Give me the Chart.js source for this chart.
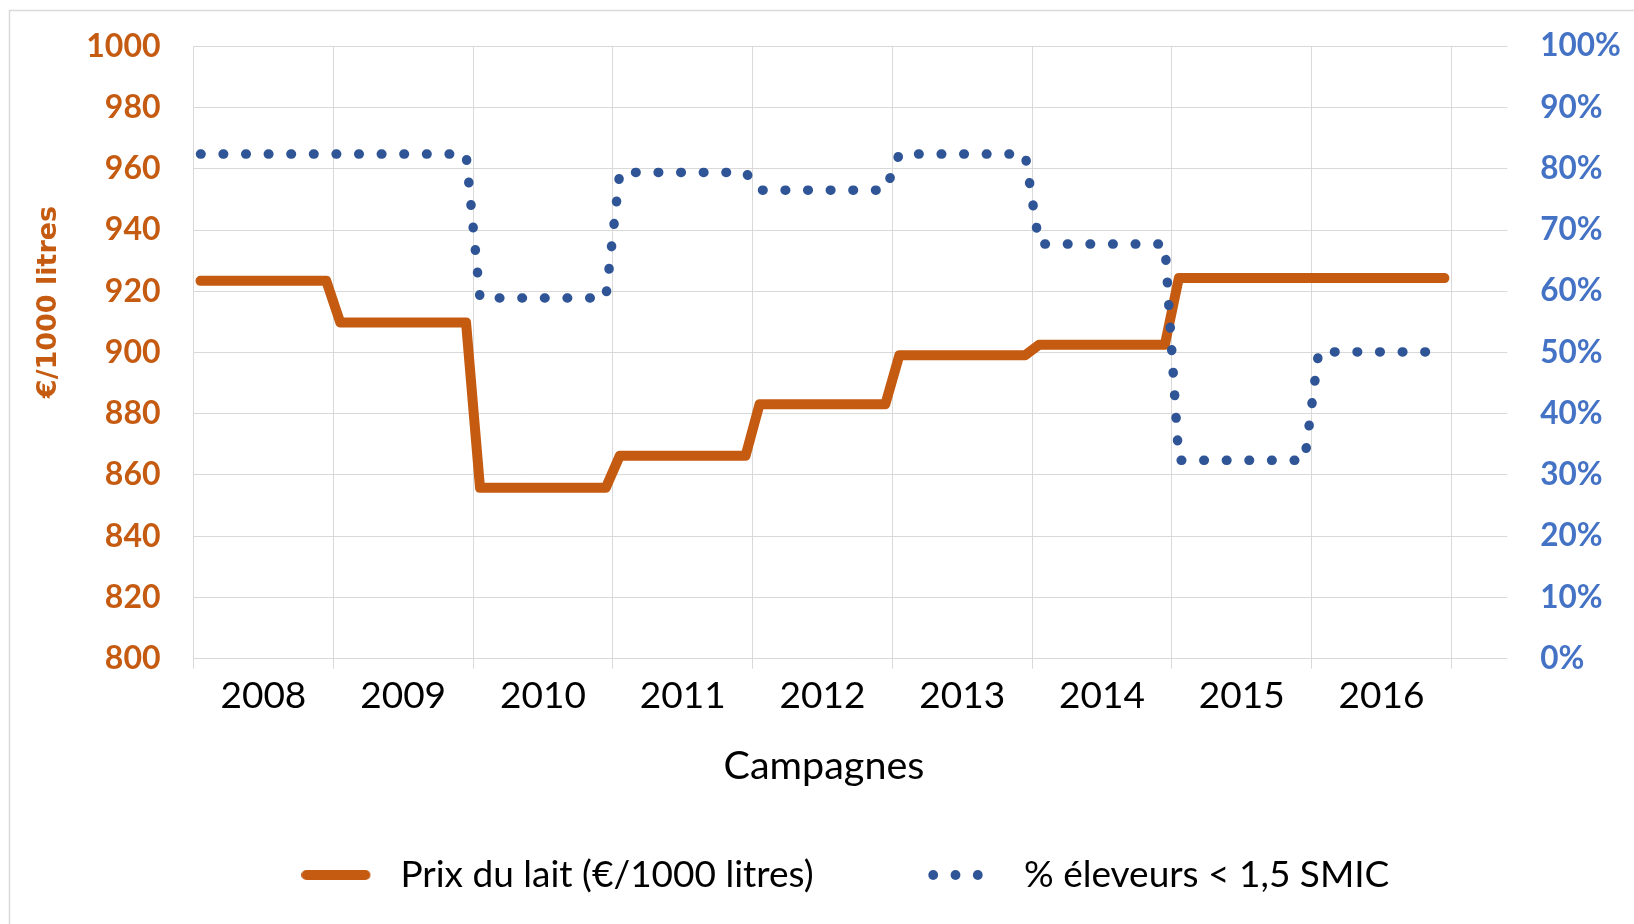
<!DOCTYPE html>
<html><head><meta charset="utf-8">
<script src="https://cdn.jsdelivr.net/npm/chart.js@4.4.1/dist/chart.umd.min.js"></script>
<style>html,body{margin:0;padding:0;background:#fff;overflow:hidden}canvas{display:block}</style>
</head><body>
<canvas id="c" width="1634" height="924"></canvas>
<script>
// ---- data ----
const campagnes = ['2008','2009','2010','2011','2012','2013','2014','2015','2016'];
const prixLait = [923.4, 909.8, 855.8, 866.3, 883.1, 899.1, 902.5, 924.3, 924.3];   // €/1000 litres
const pctEleveurs = [82.4, 82.4, 58.9, 79.4, 76.5, 82.4, 67.7, 32.4, 50.1];         // %
const serieLabels = ['Prix du lait (€/1000 litres)', '% éleveurs < 1,5 SMIC'];
const yTitle = '€/1000 litres';
const xTitle = 'Campagnes';
const sousCategories = 10;     // categories per campaign on the category axis
const nbCategories = 94;       // total categories of the axis

// ---- styles ----
const ORANGE = '#C55A11', BLUE = '#2F5597', BLUE_T = '#4472C4', GRID = '#D9D9D9';
const W = 1634, H = 924;
const plot = {left: 193.5, right: 1507.3, top: 46.3, bottom: 658.7};
const LEG_FS = 37, BOXW = 91;

// series: each campaign is a plateau over its categories (category centres at k+0.5)
function plateau(values) {
  const pts = [];
  values.forEach((v, i) => {
    pts.push({x: i * sousCategories + 0.5, y: v});
    pts.push({x: i * sousCategories + sousCategories - 0.5, y: v});
  });
  return pts;
}

// legend layout from measured text widths
const mctx = document.createElement('canvas').getContext('2d');
mctx.font = LEG_FS + 'px Lato';
const t1 = mctx.measureText(serieLabels[0]).width;
const t2 = mctx.measureText(serieLabels[1]).width;
const item1 = 290.9, item2 = 914.5;
const legPad = (item2 - item1) - BOXW - LEG_FS / 2 - t1;
const padL = item1 + item2 + BOXW + LEG_FS / 2 + t2 - W;
const padB = (H - 875) - LEG_FS / 2 - 10;

function legendLine() {
  const cv = document.createElement('canvas'); cv.width = 70; cv.height = 12;
  const g = cv.getContext('2d'); g.strokeStyle = ORANGE; g.lineWidth = 10; g.lineCap = 'round';
  g.beginPath(); g.moveTo(5, 6); g.lineTo(64, 6); g.stroke(); return cv;
}
function legendDots() {
  const cv = document.createElement('canvas'); cv.width = 80; cv.height = 12;
  const g = cv.getContext('2d'); g.fillStyle = BLUE;
  [13.2, 35.5, 57.8].forEach(x => { g.beginPath(); g.arc(x, 6, 4.9, 0, Math.PI * 2); g.fill(); });
  return cv;
}
const legendImgs = [legendLine(), legendDots()];

const decor = {
  id: 'decor',
  beforeDraw(chart) {
    const c = chart.ctx; c.save();
    c.fillStyle = '#fff'; c.fillRect(0, 0, W, H);
    c.strokeStyle = GRID; c.lineWidth = 1.5; c.strokeRect(9.5, 10.5, W + 50, H + 50);
    c.restore();
  },
  afterDraw(chart) {
    const c = chart.ctx;
    c.save();
    c.fillStyle = ORANGE; c.font = 'bold 27px "DejaVu Sans"';
    c.textAlign = 'center'; c.textBaseline = 'middle';
    c.translate(48.5, 302); c.rotate(-Math.PI / 2); c.fillText(yTitle, 0, 0);
    c.restore();
    c.save();
    c.fillStyle = '#000'; c.font = '39.5px Lato'; c.textAlign = 'center'; c.textBaseline = 'middle';
    c.fillText(xTitle, 824, 766);
    c.restore();
  }
};

function noEdgePadding(s) { s.paddingTop = 0; s.paddingBottom = 0; s.paddingLeft = 0; s.paddingRight = 0; }

new Chart(document.getElementById('c'), {
  type: 'line',
  data: {
    datasets: [
      {label: serieLabels[0], data: plateau(prixLait), yAxisID: 'y', borderColor: ORANGE,
       borderWidth: 10, borderCapStyle: 'round', borderJoinStyle: 'round', pointRadius: 0,
       tension: 0, fill: false, order: 1},
      {label: serieLabels[1], data: plateau(pctEleveurs), yAxisID: 'y1', borderColor: BLUE,
       borderWidth: 9.5, borderDash: [0.6, 22], borderCapStyle: 'round', borderJoinStyle: 'round',
       pointRadius: 0, tension: 0, fill: false, order: 0}
    ]
  },
  options: {
    responsive: false, animation: false, devicePixelRatio: 1, events: [],
    layout: {padding: {left: padL, right: 0, top: plot.top, bottom: padB}},
    scales: {
      x: {
        type: 'linear', min: 0, max: nbCategories,
        border: {display: false},
        grid: {color: c => (c.tick && c.tick.value % sousCategories === 0) ? GRID : 'rgba(0,0,0,0)',
               lineWidth: 1, drawTicks: true, tickLength: 10},
        ticks: {stepSize: sousCategories / 2, includeBounds: false, autoSkip: false, maxRotation: 0, minRotation: 0,
                padding: 5, color: '#000', font: {family: 'Lato', size: 37},
                callback: v => (v % sousCategories === sousCategories / 2) ? campagnes[(v - sousCategories / 2) / sousCategories] : ''},
        afterFit: s => { s.height = (H - padB - s.chart.legend.height) - plot.bottom; noEdgePadding(s); }
      },
      y: {
        position: 'left', min: 800, max: 1000,
        border: {display: false},
        grid: {color: GRID, lineWidth: 1, drawTicks: false},
        ticks: {stepSize: 20, padding: 33, color: ORANGE, font: {family: 'Lato', size: 32, weight: 'bold'},
                callback: v => String(v)},
        afterFit: s => { s.width = plot.left - padL; noEdgePadding(s); }
      },
      y1: {
        position: 'right', min: 0, max: 100,
        border: {display: false},
        grid: {display: false, drawTicks: false},
        ticks: {stepSize: 10, padding: 33, color: BLUE_T, font: {family: 'Lato', size: 31.5, weight: 'bold'},
                callback: v => v + '%'},
        afterFit: s => { s.width = W - plot.right; noEdgePadding(s); }
      }
    },
    plugins: {
      tooltip: {enabled: false},
      legend: {
        position: 'bottom',
        labels: {
          usePointStyle: true, pointStyleWidth: BOXW, padding: legPad,
          font: {family: 'Lato', size: LEG_FS}, color: '#000',
          generateLabels: chart => chart.data.datasets.map((ds, i) => ({
            text: ds.label, fillStyle: 'rgba(0,0,0,0)', strokeStyle: 'rgba(0,0,0,0)', lineWidth: 0,
            pointStyle: legendImgs[i], hidden: false, datasetIndex: i, fontColor: '#000'
          }))
        }
      }
    }
  },
  plugins: [decor]
});
</script>
</body></html>
